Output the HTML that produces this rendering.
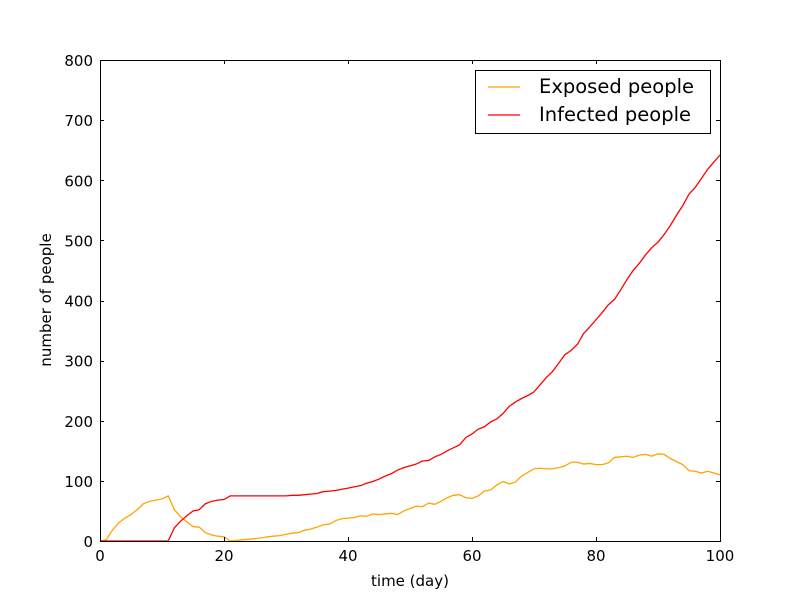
<!DOCTYPE html>
<html><head><meta charset="utf-8"><style>
body{margin:0;background:#fff;width:800px;height:601px;overflow:hidden}
svg text{font-family:"DejaVu Sans","Liberation Sans",sans-serif}
</style></head><body>
<svg id="chart" width="800" height="601">
<rect x="0" y="0" width="800" height="601" fill="#fff"/>
<g id="marks"></g>
<g id="axes"></g>
<g>
<rect x="475.5" y="70.5" width="235" height="63" fill="#fff" stroke="#000" stroke-width="1"/>
<line x1="488" y1="87" x2="520" y2="87" stroke="orange" stroke-width="1.3"/>
<text x="539" y="93" font-size="19.5">Exposed people</text>
<line x1="488" y1="115" x2="520" y2="115" stroke="red" stroke-width="1.3"/>
<text x="539" y="121" font-size="19.5">Infected people</text>
</g>
<text x="410" y="586" font-size="15" text-anchor="middle">time (day)</text>
<text transform="translate(51,300) rotate(-90)" font-size="15" text-anchor="middle">number of people</text>
</svg>
<script>
const exposed=[0,2,18,30,38,44,52,62,66,68,70,75,52,40,32,24,23,14,10,8,7,0,1,2,3,4,5,7,8,9,11,13,14,18,20,23,27,28,34,37,38,39,42,41,45,44,45,46,44,50,54,58,57,63,61,66,72,76,77,72,71,75,83,85,93,99,95,98,108,114,120,121,120,120,122,125,131,131,128,129,127,127,130,139,140,141,139,143,144,141,145,144,137,132,127,117,116,113,116,113,110];
const infected=[0,0,0,0,0,0,0,0,0,0,0,0,22,33,42,50,52,62,66,68,69,75,75,75,75,75,75,75,75,75,75,76,76,77,78,79,82,83,84,86,88,90,92,96,99,103,108,112,118,122,125,128,133,134,140,144,150,155,160,172,178,186,190,198,203,212,224,231,237,242,248,260,272,282,296,310,317,327,345,356,368,380,393,402,418,435,450,462,476,488,497,510,525,542,558,577,588,603,618,630,642];
const xTicks=[0,20,40,60,80,100];
const yTicks=[0,100,200,300,400,500,600,700,800];
const X0=100,X1=720,Y0=541,Y1=60;
const sx=v=>X0+(v-0)/100*(X1-X0);
const sy=v=>Y0-(v/800)*(Y0-Y1);
const NS="http://www.w3.org/2000/svg";
const marks=document.getElementById('marks'),axes=document.getElementById('axes');
function line(data,color,name){
  const p=document.createElementNS(NS,'polyline');
  const pts=data.slice(0,101).map((v,i)=>sx(i)+','+sy(v)).join(' ');
  p.setAttribute('points',pts);p.setAttribute('fill','none');p.setAttribute('stroke',color);p.setAttribute('stroke-width','1.3');
  
  
  marks.appendChild(p);
}
line(exposed,'orange','exposed-line');
line(infected,'red','infected-line');
const fr=document.createElementNS(NS,'rect');
fr.setAttribute('x',X0+.5);fr.setAttribute('y',Y1+.5);fr.setAttribute('width',X1-X0);fr.setAttribute('height',Y0-Y1);
fr.setAttribute('fill','none');fr.setAttribute('stroke','#000');


axes.appendChild(fr);
xTicks.forEach(t=>{
  const x=Math.round(sx(t))+.5;
  [[Y0,Y0-4],[Y1,Y1+4]].forEach(([a,b])=>{const l=document.createElementNS(NS,'line');l.setAttribute('x1',x);l.setAttribute('x2',x);l.setAttribute('y1',a);l.setAttribute('y2',b);l.setAttribute('stroke','#000');axes.appendChild(l);});
  const tx=document.createElementNS(NS,'text');tx.setAttribute('x',sx(t));tx.setAttribute('y',Y0+20);tx.setAttribute('font-size','15');tx.setAttribute('text-anchor','middle');tx.textContent=t;
  
  
  axes.appendChild(tx);
});
yTicks.forEach(t=>{
  const y=Math.round(sy(t))+.5;
  [[X0,X0+4],[X1,X1-4]].forEach(([a,b])=>{const l=document.createElementNS(NS,'line');l.setAttribute('x1',a);l.setAttribute('x2',b);l.setAttribute('y1',y);l.setAttribute('y2',y);l.setAttribute('stroke','#000');axes.appendChild(l);});
  const tx=document.createElementNS(NS,'text');tx.setAttribute('x',X0-7);tx.setAttribute('y',sy(t)+6);tx.setAttribute('font-size','15');tx.setAttribute('text-anchor','end');tx.textContent=t;
  
  
  axes.appendChild(tx);
});
</script>
</body></html>
